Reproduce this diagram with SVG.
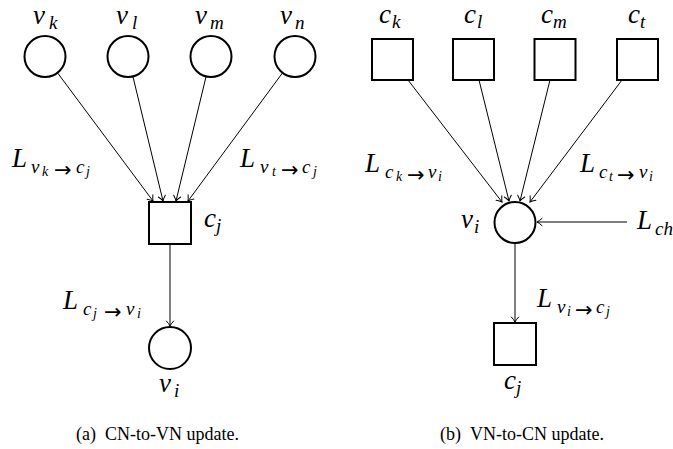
<svg xmlns="http://www.w3.org/2000/svg" width="673" height="449" viewBox="0 0 673 449">
<style>
.nd{fill:#fff;stroke:#000;stroke-width:2}
.ln{stroke:#000;stroke-width:1;fill:none}
.s{font-size:19px}
.ss{font-size:14px}
.ar{font-family:"DejaVu Sans",sans-serif;font-style:normal;font-size:21px}
</style>
<defs>
<marker id="ah" viewBox="-6 -5 8 10" refX="0" refY="0" markerWidth="8" markerHeight="10" markerUnits="userSpaceOnUse" orient="auto" overflow="visible">
<path d="M-5,-3.6 Q-2,-0.9 0,0 Q-2,0.9 -5,3.6" fill="none" stroke="#000" stroke-width="1" stroke-linecap="round"/>
</marker>
</defs>

<g id="connectors">
<line class="ln" x1="57.5" y1="72.8" x2="153" y2="201" marker-end="url(#ah)"/>
<line class="ln" x1="132.9" y1="76.4" x2="163" y2="201" marker-end="url(#ah)"/>
<line class="ln" x1="206.1" y1="76.4" x2="176" y2="201" marker-end="url(#ah)"/>
<line class="ln" x1="282.5" y1="72.9" x2="188" y2="201" marker-end="url(#ah)"/>
<line class="ln" x1="170" y1="244" x2="170" y2="326" marker-end="url(#ah)"/>
<line class="ln" x1="408" y1="80" x2="502" y2="202" marker-end="url(#ah)"/>
<line class="ln" x1="479" y1="80" x2="509" y2="201" marker-end="url(#ah)"/>
<line class="ln" x1="550" y1="80" x2="520" y2="201" marker-end="url(#ah)"/>
<line class="ln" x1="622" y1="80" x2="530" y2="202" marker-end="url(#ah)"/>
<line class="ln" x1="627" y1="222" x2="537" y2="222" marker-end="url(#ah)"/>
<line class="ln" x1="515" y1="243" x2="515" y2="322" marker-end="url(#ah)"/>
</g>

<g font-family="Liberation Serif, Times New Roman, serif" font-size="27" font-style="italic" fill="#000">
<!-- Left panel -->
<g id="vk"><circle class="nd" cx="45" cy="56.5" r="20.5"/>
<text x="33" y="24">v<tspan class="s" x="49" y="29">k</tspan></text></g>
<g id="vl"><circle class="nd" cx="128" cy="56.5" r="20.5"/>
<text x="116" y="24">v<tspan class="s" x="132" y="29">l</tspan></text></g>
<g id="vm"><circle class="nd" cx="211" cy="56.5" r="20.5"/>
<text x="195" y="24">v<tspan class="s" x="210" y="29">m</tspan></text></g>
<g id="vn"><circle class="nd" cx="295" cy="56.5" r="20.5"/>
<text x="280" y="24">v<tspan class="s" x="295" y="29">n</tspan></text></g>
<g id="cj-left"><rect class="nd" x="149" y="202" width="42" height="42"/>
<text x="204" y="227">c<tspan class="s" x="216" y="232">j</tspan></text></g>
<g id="vi-left"><circle class="nd" cx="170" cy="348" r="21"/>
<text x="159" y="392">v<tspan class="s" x="174" y="397">i</tspan></text></g>
<g id="lbl-left">
<text x="12" y="167">L<tspan class="s" x="31" y="173">v</tspan><tspan class="ss" x="42" y="176">k</tspan><tspan class="ar" x="54" y="177">→</tspan><tspan class="s" x="76" y="173">c</tspan><tspan class="ss" x="86" y="176">j</tspan></text>
<text x="240" y="167">L<tspan class="s" x="260" y="173">v</tspan><tspan class="ss" x="272" y="176">t</tspan><tspan class="ar" x="281" y="177">→</tspan><tspan class="s" x="302" y="173">c</tspan><tspan class="ss" x="313" y="176">j</tspan></text>
<text x="63" y="309">L<tspan class="s" x="83" y="315">c</tspan><tspan class="ss" x="93" y="318">j</tspan><tspan class="ar" x="104" y="319">→</tspan><tspan class="s" x="126" y="315">v</tspan><tspan class="ss" x="137" y="318">i</tspan></text>
</g>

<!-- Right panel -->
<g id="ck"><rect class="nd" x="372" y="39" width="41" height="41"/>
<text x="379" y="23">c<tspan class="s" x="392" y="28">k</tspan></text></g>
<g id="cl"><rect class="nd" x="453" y="39" width="41" height="41"/>
<text x="464" y="23">c<tspan class="s" x="477" y="28">l</tspan></text></g>
<g id="cm"><rect class="nd" x="534.5" y="39" width="41" height="41"/>
<text x="541" y="23">c<tspan class="s" x="553" y="28">m</tspan></text></g>
<g id="ct"><rect class="nd" x="617" y="39" width="41" height="41"/>
<text x="628" y="23">c<tspan class="s" x="640" y="28">t</tspan></text></g>
<g id="vi-right"><circle class="nd" cx="515" cy="222.5" r="20.5"/>
<text x="461" y="228">v<tspan class="s" x="474" y="233">i</tspan></text></g>
<g id="cj-right"><rect class="nd" x="494" y="323" width="42" height="42"/>
<text x="504" y="389">c<tspan class="s" x="516" y="394">j</tspan></text></g>
<g id="lbl-right">
<text x="365" y="172">L<tspan class="s" x="385" y="178">c</tspan><tspan class="ss" x="396" y="181">k</tspan><tspan class="ar" x="407" y="182">→</tspan><tspan class="s" x="428" y="178">v</tspan><tspan class="ss" x="438" y="181">i</tspan></text>
<text x="580" y="172">L<tspan class="s" x="599" y="178">c</tspan><tspan class="ss" x="609" y="181">t</tspan><tspan class="ar" x="617" y="182">→</tspan><tspan class="s" x="639" y="178">v</tspan><tspan class="ss" x="649" y="181">i</tspan></text>
<text x="637" y="229">L<tspan class="s" x="655" y="235">ch</tspan></text>
<text x="537" y="307">L<tspan class="s" x="557" y="313">v</tspan><tspan class="ss" x="567" y="316">i</tspan><tspan class="ar" x="575" y="317">→</tspan><tspan class="s" x="596" y="313">c</tspan><tspan class="ss" x="606" y="316">j</tspan></text>
</g>
</g>

<g id="captions" font-family="Liberation Serif, Times New Roman, serif" font-size="18" fill="#000">
<text x="76" y="440">(a)<tspan dx="9">CN-to-VN update.</tspan></text>
<text x="440" y="440">(b)<tspan dx="9">VN-to-CN update.</tspan></text>
</g>
</svg>
